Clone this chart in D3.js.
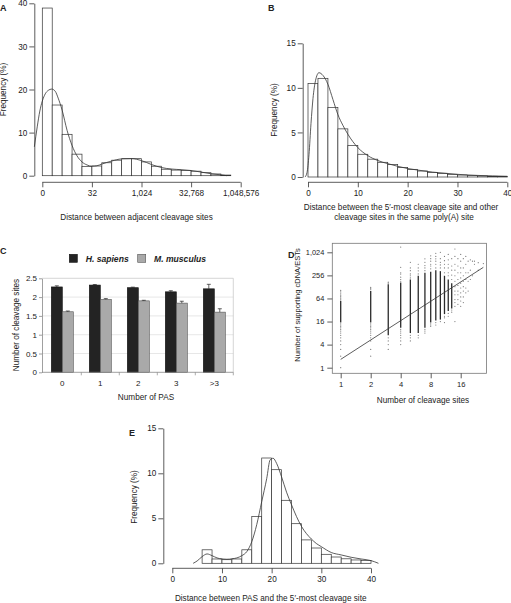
<!DOCTYPE html>
<html><head><meta charset="utf-8">
<script src="https://cdn.jsdelivr.net/npm/d3@7"></script>
<style>
body{margin:0;background:#fff;}
svg{display:block;font-family:"Liberation Sans",Arial,sans-serif;}
</style></head>
<body><svg id="c" width="511" height="603"></svg>
<script>
// ---------- Panel A data (x in log2 units) ----------
const aBinStarts = [0,1,2,3,4,5,6,7,8,9,10,11,12,13,14,15,16,17,18];
const aFreq = [38.9,16.4,9.6,5.0,2.1,2.25,3.0,3.6,3.95,3.95,3.2,2.2,1.5,1.3,1.2,1.05,0.7,0.4,0.15];
const aCurveX = [-0.8,-0.5,-0.25,0,0.3,0.6,0.95,1.3,1.6,2,2.5,3,3.5,4,4.5,5,5.5,6,7,8,9,10,11,12,13,14,15,16,17,18,18.6];
const aCurveY = [6.7,11.5,15,17.3,19,19.8,20.1,19.6,18,15.2,10.5,7,4.6,3.2,2.5,2.2,2.3,2.7,3.4,3.9,3.95,3.5,2.6,1.9,1.55,1.4,1.2,0.85,0.45,0.2,0];
const aXTicks = [0,5,10,15,20];
const aXLabels = ["0","32","1,024","32,768","1,048,576"];
const aYTicks = [0,10,20,30,40];

// ---------- Panel B data ----------
const bBinStarts = [0,2,4,6,8,10,12,14,16,18,20,22,24,26,28,30,32,34,36,38];
const bFreq = [10.5,11.07,7.8,5.4,3.55,2.55,2.0,1.65,1.4,1.05,0.86,0.67,0.5,0.4,0.3,0.22,0.15,0.12,0.08,0.07];
const bCurveX = [-0.6,-0.2,0.2,0.6,1.0,1.5,2.2,3,4,5,6,7,8,10,12,14,16,18,20,22,25,28,30,34,40];
const bCurveY = [0,0.5,2.5,6,8.8,10.8,11.7,11.4,10.4,8.7,7.0,5.8,4.8,3.3,2.4,1.85,1.5,1.2,0.95,0.78,0.55,0.4,0.3,0.18,0.08];
const bXTicks = [0,10,20,30,40];
const bYTicks = [0,5,10,15];

// ---------- Panel C data ----------
const cCats = ["0","1","2","3",">3"];
const cHuman = [2.27,2.32,2.25,2.14,2.22];
const cHumanErr = [0.03,0.015,0.015,0.03,0.12];
const cMouse = [1.61,1.94,1.90,1.84,1.60];
const cMouseErr = [0.02,0.02,0.015,0.05,0.09];
const cSeries = ["H. sapiens","M. musculus"];
const cYTicks = [0,0.5,1,1.5,2,2.5];

// ---------- Panel D data ----------
const dSites = [1,2,3,4,5,6,7,8,9,10,11,12,13];
const dDenseLow = [15,15,7,11,8,8,11,15,17,18,25,30,35];
const dDenseHigh = [55,100,150,167,200,250,300,320,350,330,250,200,160];
const dSparse = [
  [1,1],[1,2],[1,3],[1,4],[1,5],[1,6],[1,7],[1,8],[1,9],[1,10],[1,11],[1,12],[1,13],[1,14],[1,58],[1,62],[1,66],[1,72],[1,78],[1,85],[1,95],[1,104],
  [2,2],[2,3],[2,5],[2,6],[2,7],[2,8],[2,9],[2,10],[2,11],[2,12],[2,13],[2,14],[2,108],[2,115],[2,124],
  [3,3],[3,4],[3,5],[3,6],[3,160],[3,170],
  [4,4],[4,5],[4,6],[4,7],[4,8],[4,9],[4,10],[4,180],[4,200],[4,230],[4,277],[4,300],[4,415],[4,1400],
  [5,5],[5,6],[5,7],[5,220],[5,250],[5,280],[5,340],[5,400],[5,560],
  [6,6],[6,7],[6,280],[6,337],[6,400],[6,500],
  [7,8],[7,9],[7,10],[7,340],[7,400],[7,460],[7,560],[7,690],
  [8,12],[8,13],[8,14],[8,380],[8,450],[8,500],[8,600],[8,700],[8,830],
  [9,13],[9,15],[9,400],[9,500],[9,600],[9,690],[9,800],[9,960],
  [10,16],[10,400],[10,480],[10,560],[10,700],[10,1020],
  [11,15],[11,20],[11,22],[11,300],[11,400],[11,500],[11,620],[11,800],
  [12,22],[12,26],[12,250],[12,300],[12,400],[12,500],[12,650],[12,900],
  [13,28],[13,32],[13,200],[13,260],[13,350],[13,450],[13,700],
  [14,16],[14,40],[14,50],[14,60],[14,80],[14,100],[14,130],[14,180],[14,250],[14,350],[14,500],[14,800],[14,1250],
  [15,45],[15,60],[15,80],[15,100],[15,140],[15,200],[15,300],[15,450],[15,700],
  [16,40],[16,55],[16,70],[16,90],[16,120],[16,160],[16,220],[16,300],[16,400],[16,600],[16,900],
  [17,50],[17,70],[17,100],[17,130],[17,180],[17,250],[17,400],[17,700],
  [18,90],[18,120],[18,200],[18,300],[18,500],[18,800],
  [19,100],[19,180],[19,300],[19,600],
  [20,200],[20,350],[20,650],
  [21,250],[21,600],[22,500],[22,600],[24,350],[24,550],[27,520]
];
const dFit = [[1,1.65],[27,415]];
const dXTicks = [1,2,4,8,16];
const dXLabels = ["1","2","4","8","16"];
const dYTicks = [1,4,16,64,256,1024];
const dYLabels = ["1","4","16","64","256","1,024"];

// ---------- Panel E data ----------
const eBinStarts = [6,8,10,12,14,16,18,20,22,24,26,28,30,32,34,36,38];
const eFreq = [1.5,0.48,0.4,0.48,1.5,5.2,11.7,10.4,7.0,4.4,2.6,1.7,1.0,0.7,0.5,0.37,0.3];
const eCurveX = [4.2,5,6,7,8,9,10,11,12,13,14,15,16,17,18,19,19.7,20.3,21,22,23,24,25,26,27,28,29,30,32,34,36,38,40,41.5];
const eCurveY = [0,0.26,0.74,1.04,0.85,0.6,0.48,0.45,0.5,0.6,0.85,1.3,2.4,4.3,6.85,9.4,11.5,11.67,11.1,9.6,7.9,6.5,5.2,4.1,3.3,2.7,2.2,1.85,1.2,0.93,0.67,0.48,0.3,0];
const eXTicks = [0,10,20,30,40];
const eYTicks = [0,5,10,15];

// ================= drawing =================
const svg = d3.select("#c");
svg.append("rect").attr("width",511).attr("height",603).attr("fill","#fff");
const FS = 8.2, TXT = "#222", AX = "#333";

function styleAxis(g,size){
  g.attr("font-size",size||FS).attr("font-family","Liberation Sans, Arial, sans-serif");
  g.selectAll("path,line").attr("stroke",AX).attr("stroke-width",0.8);
  g.selectAll("text").attr("fill",TXT);
}
function ytitle(x,y,t,size){
  svg.append("text").attr("transform",`translate(${x},${y}) rotate(-90)`)
    .attr("text-anchor","middle").attr("font-size",size||FS).attr("fill",TXT).text(t);
}
function label(x,y,t,opts){
  const s = svg.append("text").attr("x",x).attr("y",y).attr("font-size",(opts&&opts.size)||FS)
    .attr("fill",TXT).attr("text-anchor",(opts&&opts.anchor)||"middle").text(t);
  if(opts&&opts.bold) s.attr("font-weight","bold");
  if(opts&&opts.italic) s.attr("font-style","italic");
  return s;
}
function histPanel(cfg){
  const x = d3.scaleLinear().domain(cfg.xd).range(cfg.xr);
  const y = d3.scaleLinear().domain(cfg.yd).range(cfg.yr);
  const g = svg.append("g");
  g.selectAll("rect").data(cfg.starts).join("rect")
    .attr("x",d=>x(d)).attr("width",d=>x(d+cfg.bw)-x(d))
    .attr("y",(d,i)=>y(cfg.freq[i])).attr("height",(d,i)=>y(0)-y(cfg.freq[i]))
    .attr("fill","#fff").attr("stroke","#333").attr("stroke-width",0.7);
  const line = d3.line().x(d=>x(d[0])).y(d=>y(d[1])).curve(d3.curveMonotoneX);
  g.append("path").datum(cfg.cx.map((v,i)=>[v,cfg.cy[i]])).attr("d",line)
    .attr("fill","none").attr("stroke","#333").attr("stroke-width",0.8);
  const ya = svg.append("g").attr("transform",`translate(${cfg.yAxisX},0)`)
    .call(d3.axisLeft(y).tickValues(cfg.yt).tickSize(5).tickSizeOuter(0).tickPadding(2).tickFormat(d3.format("d")));
  styleAxis(ya);
  const xa = svg.append("g").attr("transform",`translate(0,${cfg.xAxisY})`)
    .call(d3.axisBottom(x).tickValues(cfg.xt).tickSize(5).tickSizeOuter(0).tickPadding(3)
      .tickFormat((d,i)=>cfg.xl?cfg.xl[i]:d3.format("d")(d)));
  styleAxis(xa);
  xa.select(".domain").attr("d",`M${x(cfg.xt[0])},0H${x(cfg.xt[cfg.xt.length-1])}`);
  return {x,y};
}

// ---- A ----
histPanel({xd:[0,20],xr:[42.3,240.7],yd:[0,40],yr:[175.7,3.3],starts:aBinStarts,bw:1,freq:aFreq,
  cx:aCurveX,cy:aCurveY,yt:aYTicks,xt:aXTicks,xl:aXLabels,yAxisX:34.3,xAxisY:182.3});
ytitle(6,89.5,"Frequency (%)");
label(136.5,220,"Distance between adjacent cleavage sites");
label(0,11,"A",{anchor:"start",bold:true,size:9});

// ---- B ----
histPanel({xd:[0,40],xr:[308,507.3],yd:[0,15],yr:[177,43.3],starts:bBinStarts,bw:2,freq:bFreq,
  cx:bCurveX,cy:bCurveY,yt:bYTicks,xt:bXTicks,yAxisX:302.7,xAxisY:182.3});
ytitle(277,110,"Frequency (%)");
label(401,210,"Distance between the 5\u2032-most cleavage site and other");
label(404,220,"cleavage sites in the same poly(A) site");
label(268,10.5,"B",{anchor:"start",bold:true,size:9});

// ---- C ----
(function(){
  const left=42, right=233.3, top=278.3, bottom=372.3;
  const x = d3.scaleBand().domain(cCats).range([43.3,233.3]);
  const y = d3.scaleLinear().domain([0,2.5]).range([bottom,top]);
  const g = svg.append("g");
  g.selectAll("line.grid").data(cYTicks.slice(1,-1)).join("line")
    .attr("x1",left).attr("x2",right).attr("y1",d=>y(d)).attr("y2",d=>y(d))
    .attr("stroke","#dcdcdc").attr("stroke-width",0.7);
  g.append("path").attr("d",`M${left},${top}H${right}V${bottom}`).attr("fill","none").attr("stroke","#c4c4c4").attr("stroke-width",0.7);
  const bw = 11;
  const series = [cHuman,cMouse], errs=[cHumanErr,cMouseErr];
  const fills = ["#232323","#a9a9a9"], strokes=["#111","#555"];
  series.forEach((vals,s)=>{
    g.selectAll(null).data(cCats).join("rect")
      .attr("x",d=>x(d)+x.bandwidth()/2-bw+s*bw).attr("width",bw)
      .attr("y",(d,i)=>y(vals[i])).attr("height",(d,i)=>bottom-y(vals[i]))
      .attr("fill",fills[s]).attr("stroke",strokes[s]).attr("stroke-width",0.6);
    cCats.forEach((c,i)=>{
      const cx = x(c)+x.bandwidth()/2-bw/2+s*bw;
      g.append("line").attr("x1",cx).attr("x2",cx).attr("y1",y(vals[i])).attr("y2",y(vals[i]+errs[s][i])).attr("stroke","#222").attr("stroke-width",0.7);
      g.append("line").attr("x1",cx-2).attr("x2",cx+2).attr("y1",y(vals[i]+errs[s][i])).attr("y2",y(vals[i]+errs[s][i])).attr("stroke","#222").attr("stroke-width",0.7);
    });
  });
  const ya = svg.append("g").attr("transform",`translate(${left},0)`)
    .call(d3.axisLeft(y).tickValues(cYTicks).tickSize(3).tickSizeOuter(0).tickPadding(2).tickFormat(d=>String(d)));
  styleAxis(ya,8); ya.selectAll("path,line").attr("stroke","#888");
  const xa = svg.append("g").attr("transform",`translate(0,${bottom})`)
    .call(d3.axisBottom(x).tickSize(0).tickPadding(8));
  styleAxis(xa,8); xa.selectAll("path").attr("stroke","#888");
  xa.select(".domain").attr("d",`M${left},0H${right}`);
  const bounds = cCats.map(c=>x(c)+x.bandwidth());
  xa.selectAll("line.b").data(bounds).join("line").attr("x1",d=>d).attr("x2",d=>d).attr("y1",0).attr("y2",3).attr("stroke","#888").attr("stroke-width",0.7);
  ytitle(18.5,325,"Number of cleavage sites");
  label(146,400,"Number of PAS");
  const lx=[69.3,137.7], tx=[85.7,154];
  cSeries.forEach((s,i)=>{
    svg.append("rect").attr("x",lx[i]).attr("y",254.3).attr("width",8).attr("height",8)
      .attr("fill",fills[i]).attr("stroke",strokes[i]).attr("stroke-width",0.6);
    label(tx[i],262,s,{anchor:"start",bold:true,italic:true,size:8.6});
  });
  label(0,253.5,"C",{anchor:"start",bold:true,size:9});
})();

// ---- D ----
(function(){
  const x = d3.scaleLog().base(2).domain([1,16]).range([340.7,460.7]);
  const y = d3.scaleLog().base(2).domain([1,1024]).range([367.7,252.3]);
  const g = svg.append("g");
  g.selectAll("line.dense").data(dSites).join("line")
    .attr("x1",d=>x(d)).attr("x2",d=>x(d))
    .attr("y1",(d,i)=>y(dDenseLow[i])).attr("y2",(d,i)=>y(dDenseHigh[i]))
    .attr("stroke","#2a2a2a").attr("stroke-width",1.3);
  g.selectAll("circle").data(dSparse).join("circle")
    .attr("cx",d=>x(d[0])).attr("cy",d=>y(d[1])).attr("r",0.6)
    .attr("fill","#555").attr("opacity",0.8);
  g.append("line").attr("x1",x(dFit[0][0])).attr("y1",y(dFit[0][1]))
    .attr("x2",x(dFit[1][0])).attr("y2",y(dFit[1][1])).attr("stroke","#333").attr("stroke-width",0.8);
  svg.append("rect").attr("x",332.3).attr("y",243.3).attr("width",154.2).attr("height",130)
    .attr("fill","none").attr("stroke","#777").attr("stroke-width",0.8);
  const ya = svg.append("g").attr("transform","translate(332.3,0)")
    .call(d3.axisLeft(y).tickValues(dYTicks).tickSize(5).tickPadding(3).tickFormat((d,i)=>dYLabels[i]));
  styleAxis(ya,7.4); ya.select(".domain").remove();
  const xa = svg.append("g").attr("transform","translate(0,373.3)")
    .call(d3.axisBottom(x).tickValues(dXTicks).tickSize(5).tickPadding(3).tickFormat((d,i)=>dXLabels[i]));
  styleAxis(xa,7.6); xa.select(".domain").remove();
  ytitle(300,305,"Number of supporting cDNA/ESTs",7.5);
  label(423,403,"Number of cleavage sites");
  label(288,257.5,"D",{anchor:"start",bold:true,size:9});
})();

// ---- E ----
histPanel({xd:[0,40],xr:[172.3,371],yd:[0,15],yr:[563.3,428.3],starts:eBinStarts,bw:2,freq:eFreq,
  cx:eCurveX,cy:eCurveY,yt:eYTicks,xt:eXTicks,yAxisX:163.3,xAxisY:568.3});
ytitle(137,497,"Frequency (%)");
label(270.7,601,"Distance between PAS and the 5\u2032-most cleavage site");
label(129,436,"E",{anchor:"start",bold:true,size:9});
</script></body></html>
